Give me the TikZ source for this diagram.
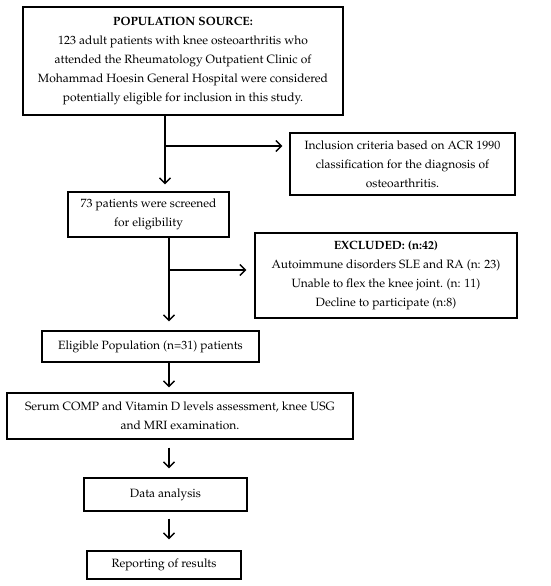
\documentclass[tikz,border=0pt]{standalone}
\usepackage[T1]{fontenc}
\usepackage{mathpazo}
\usetikzlibrary{arrows.meta,calc}
\begin{document}
\begin{tikzpicture}[x=1pt,y=-1pt,
  box/.style={draw,line width=1.4pt,align=center,inner sep=2pt,font=\fontsize{12}{18.8}\selectfont},
  arr/.style={line width=1.3pt,-{Straight Barb[length=5.5pt,width=11pt,line width=1.3pt]}}]
\useasboundingbox (0,0) rectangle (550,586);
\node[box,minimum width=320pt,minimum height=108pt] (top) at (183,61) {\textbf{POPULATION SOURCE:}\\123 adult patients with knee osteoarthritis who\\attended the Rheumatology Outpatient Clinic of\\Mohammad Hoesin General Hospital were considered\\potentially eligible for inclusion in this study.};
\node[box,minimum width=225pt,minimum height=62pt] (incl) at (402.5,164) {Inclusion criteria based on ACR 1990\\classification for the diagnosis of\\osteoarthritis.};
\node[box,minimum width=161pt,minimum height=45pt] (n73) at (148.5,214.5) {73 patients were screened\\for eligibility};
\node[box,minimum width=262pt,minimum height=85pt] (excl) at (386,275.5) {\textbf{EXCLUDED: (n:42)}\\Autoimmune disorders SLE and RA (n: 23)\\Unable to flex the knee joint. (n: 11)\\Decline to participate (n:8)};
\node[box,minimum width=217pt,minimum height=31pt] (elig) at (150.5,346.5) {Eligible Population (n=31) patients};
\node[box,minimum width=346pt,minimum height=46pt] (serum) at (180,416) {Serum COMP and Vitamin D\ levels assessment, knee USG\\and MRI examination.};
\node[box,minimum width=163pt,minimum height=33pt] (data) at (165.5,494.5) {Data analysis};
\node[box,minimum width=154pt,minimum height=28pt] (rep) at (164,565) {Reporting of results};
\coordinate (xa) at (165,0);
\coordinate (xb) at (169,0);
\coordinate (b1) at (165,146);
\coordinate (b2) at (169,270);
\draw[arr,shorten >=7pt] (top.south -| xa) -- (n73.north -| xa);
\draw[arr,shorten >=7pt] (b1) -- (incl.west |- b1);
\draw[arr,shorten >=9pt] (n73.south -| xb) -- (elig.north -| xb);
\draw[arr,shorten >=8pt] (b2) -- (excl.west |- b2);
\draw[arr,shorten >=5pt] (elig.south -| xb) -- (serum.north -| xb);
\draw[arr,shorten >=9pt,shorten <=8pt] (serum.south -| xb) -- (data.north -| xb);
\draw[arr,shorten >=11pt,shorten <=7pt] (data.south -| xb) -- (rep.north -| xb);
\end{tikzpicture}
\end{document}
